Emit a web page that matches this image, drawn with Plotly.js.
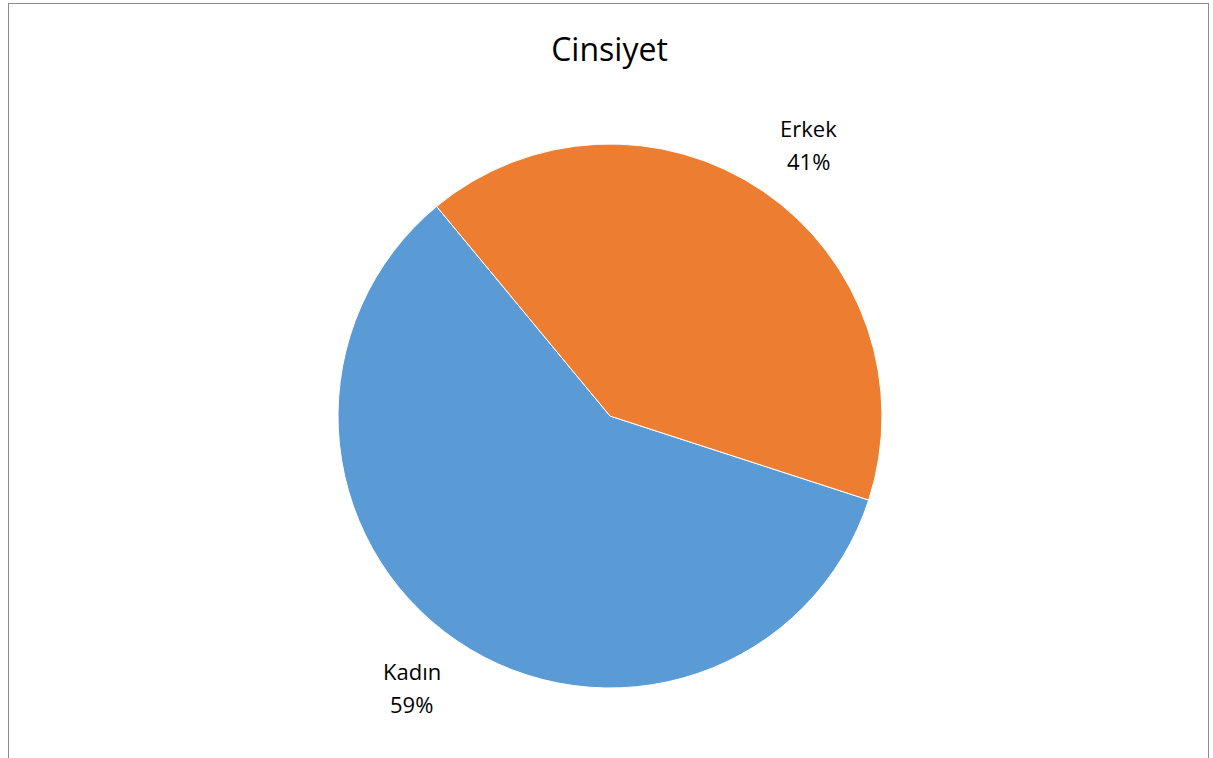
<!DOCTYPE html>
<html>
<head>
<meta charset="utf-8">
<script src="https://cdn.plot.ly/plotly-3.0.1.min.js"></script>
<style>
  html, body { margin: 0; padding: 0; background: #ffffff; overflow: hidden; }
  #frame { position: absolute; left: 8px; top: 3px; width: 1201px; height: 770px; border: 1px solid #8c8c8c; box-sizing: border-box; background: #ffffff; }
  #chart { position: absolute; left: 0; top: 0; width: 1213px; height: 758px; }
</style>
</head>
<body>
<div id="frame"></div>
<div id="chart"></div>
<script>
const chartTitle = "Cinsiyet";
const categories = ["Kadın", "Erkek"];
const values = [59, 41];
const colors = ["#5B9BD5", "#ED7D31"];

const W = 1213, H = 758;
const cx = 610, cy = 416, r = 272;
const rotation = 108;
const labelDist = 1.235 * r;
const labelAngleOffset = 2;
const FONT = "Open Sans, Liberation Sans, sans-serif";

const trace = {
  type: "pie",
  labels: categories,
  values: values,
  sort: false,
  direction: "clockwise",
  rotation: rotation,
  marker: { colors: colors, line: { color: "#ffffff", width: 1 } },
  textinfo: "none",
  hoverinfo: "label+percent",
  showlegend: false,
  domain: { x: [(cx - r) / W, (cx + r) / W], y: [1 - (cy + r) / H, 1 - (cy - r) / H] }
};

// Data labels, placed along each slice's middle angle
const total = values.reduce((a, b) => a + b, 0);
const annotations = [];
let cum = 0;
values.forEach((v, i) => {
  const midFrac = (cum + v / 2) / total;
  cum += v;
  const a = (rotation + 360 * midFrac + labelAngleOffset) * Math.PI / 180;
  const px = cx + labelDist * Math.sin(a);
  const py = cy - labelDist * Math.cos(a);
  const pct = Math.round(100 * v / total) + "%";
  [[categories[i], 16.5], [pct, -16.5]].forEach(([t, shift]) => {
    annotations.push({
      xref: "paper", yref: "paper",
      x: px / W, y: 1 - py / H,
      xanchor: "center", yanchor: "middle",
      yshift: shift,
      text: t, showarrow: false,
      font: { family: FONT, size: 22, color: "#000000" }
    });
  });
});

const layout = {
  width: W, height: H,
  margin: { l: 0, r: 0, t: 0, b: 0 },
  paper_bgcolor: "rgba(0,0,0,0)",
  plot_bgcolor: "rgba(0,0,0,0)",
  showlegend: false,
  annotations: annotations,
  title: {
    text: chartTitle,
    x: (W / 2 + 3) / W, xanchor: "center",
    y: 1 - 50 / H, yanchor: "middle",
    font: { family: FONT, size: 32, color: "#000000" }
  }
};

Plotly.newPlot("chart", [trace], layout, { displayModeBar: false, staticPlot: true });
</script>
</body>
</html>
